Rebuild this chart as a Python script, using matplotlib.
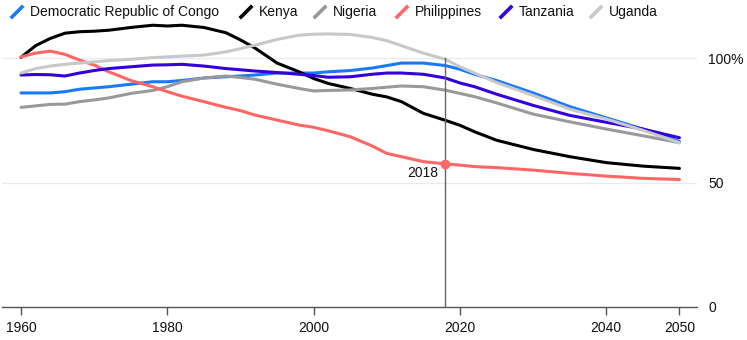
import matplotlib
matplotlib.use("Agg")
import matplotlib.pyplot as plt
from matplotlib.lines import Line2D

years = [1960, 1962, 1964, 1966, 1968, 1970, 1972, 1975, 1978, 1980, 1982, 1985, 1988,
         1990, 1992, 1995, 1998, 2000, 2002, 2005, 2008, 2010, 2012, 2015, 2018, 2020,
         2022, 2025, 2030, 2035, 2040, 2045, 2050]

drc = [86, 86, 86, 86.5, 87.5, 88, 88.5, 89.5, 90.5, 90.5, 91, 92, 92.5,
       92.8, 93.2, 94, 94, 94, 94.5, 95, 96, 97, 98, 98, 97, 95.5,
       93.5, 91, 86, 80.5, 76, 71.5, 66.5]
kenya = [100.3, 105, 107.9, 110, 110.6, 110.8, 111.2, 112.3, 113.2, 112.9, 113.2, 112.3, 110.2,
         107.3, 104, 98, 94.5, 91.8, 89.8, 87.8, 85.5, 84.4, 82.5, 77.8, 75, 73,
         70.4, 67, 63.3, 60.4, 58, 56.6, 55.7]
nigeria = [80.2, 80.8, 81.4, 81.5, 82.5, 83.2, 84, 85.8, 87, 88.5, 90.5, 92, 92.8,
           92.2, 91.5, 89.5, 87.8, 86.8, 87, 87.2, 87.8, 88.3, 88.8, 88.5, 87.1, 85.8,
           84.5, 82, 77.5, 74.4, 71.5, 68.8, 66]
philippines = [100.5, 102, 102.8, 101.5, 99.2, 97.2, 94.5, 91, 88.5, 86.5, 84.7, 82.5, 80.2,
               78.9, 77.1, 75.1, 73.1, 72.2, 70.8, 68.4, 64.7, 61.7, 60.4, 58.4, 57.5, 57,
               56.4, 56, 55, 53.7, 52.6, 51.7, 51.2]
tanzania = [93.2, 93.4, 93.3, 92.8, 94, 95, 95.8, 96.5, 97.2, 97.3, 97.5, 96.8, 95.8,
            95.3, 94.8, 94.2, 93.5, 93, 92.3, 92.5, 93.5, 94, 94, 93.5, 92, 90,
            88.5, 85.5, 81, 77, 74.2, 71.5, 68]
uganda = [94, 95.8, 96.8, 97.5, 98, 98.5, 99, 99.5, 100.2, 100.5, 100.8, 101.2, 102.5,
          103.8, 105.2, 107.5, 109.2, 109.6, 109.7, 109.5, 108.3, 107, 105, 102, 99.5, 96.5,
          94, 90.2, 85, 79.5, 75.5, 71, 66]

names = ["Democratic Republic of Congo", "Kenya", "Nigeria", "Philippines", "Tanzania", "Uganda"]
series = [drc, kenya, nigeria, philippines, tanzania, uganda]
colors = ["#1a7aff", "#000000", "#999999", "#ff6666", "#3300dd", "#c8c8c8"]

xticks = [1960, 1980, 2000, 2020, 2040, 2050]
yticks = [0, 50, 100]
ytick_labels = ["0", "50", "100%"]
marker_year = 2018

W, H = 747, 340
fig = plt.figure(figsize=(W / 100, H / 100), dpi=100)
left_px, right_px, bottom_px, top_px = 2, 697, 307, 22
ax = fig.add_axes([left_px / W, 1 - bottom_px / H, (right_px - left_px) / W, (bottom_px - top_px) / H])
ax.set_xlim(1957.4, 2052.4)
ax.set_ylim(0, 114.5)

for yv in yticks[1:]:
    ax.axhline(yv, color="#ebebeb", lw=1, zorder=0)

for vals, c in zip(series, colors):
    ax.plot(years, vals, color=c, lw=2.2, solid_capstyle="round", zorder=2)

# 2018 marker line
ax.plot([marker_year, marker_year], [0, 100], color="#666666", lw=1, zorder=3)
pi = years.index(marker_year)
ax.plot([marker_year], [philippines[pi]], "o", color="#ff6666", ms=6, zorder=4)
ax.text(marker_year - 1.0, philippines[pi] - 3.5, str(marker_year), ha="right", va="center",
        fontsize=10, family="Liberation Sans", color="#111111")

for s in ["top", "right", "left"]:
    ax.spines[s].set_visible(False)
ax.spines["bottom"].set_color("#555555")
ax.spines["bottom"].set_linewidth(1)

ax.set_xticks(xticks)
ax.set_xticklabels([str(x) for x in xticks])
ax.tick_params(axis="x", length=6, width=1, color="#555555", pad=4, labelsize=10)
for lab in ax.get_xticklabels():
    lab.set_family(["Liberation Sans Narrow", "DejaVu Sans Condensed", "Liberation Sans"])
    lab.set_color("#111111")

ax.yaxis.tick_right()
ax.set_yticks(yticks)
ax.set_yticklabels(ytick_labels)
ax.tick_params(axis="y", length=0, pad=8, labelsize=10)
for lab in ax.get_yticklabels():
    lab.set_family("Liberation Sans")
    lab.set_color("#111111")

# legend
text_x = [30, 259, 333, 415, 519, 609]
ly = 12
for name, c, tx in zip(names, colors, text_x):
    x0, x1 = tx - 18, tx - 8
    fig.add_artist(Line2D([x0 / W, x1 / W], [1 - (ly + 5) / H, 1 - (ly - 5) / H],
                          transform=fig.transFigure, color=c, lw=2.6))
    fig.text(tx / W, 1 - ly / H, name, ha="left", va="center", fontsize=10,
             family="Liberation Sans", color="#111111")

fig.savefig("out.png", dpi=100, facecolor="white")
